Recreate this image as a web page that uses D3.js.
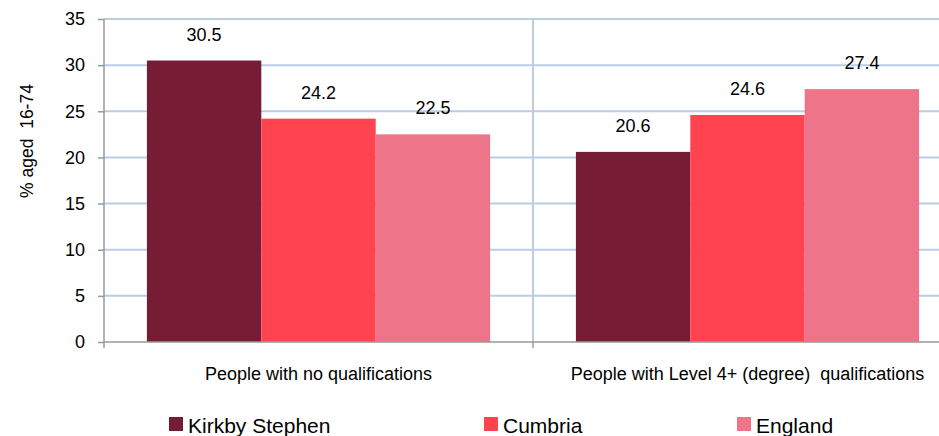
<!DOCTYPE html>
<html>
<head>
<meta charset="utf-8">
<script src="https://cdn.jsdelivr.net/npm/d3@7"></script>
<style>
  body { margin: 0; background: #fff; }
  text { font-family: "Liberation Sans", Arial, sans-serif; fill: #000; }
</style>
</head>
<body>
<div class="chart"></div>
<script>
var categories = ['People with no qualifications', 'People with Level 4+ (degree)  qualifications'];
var seriesNames = ['Kirkby Stephen', 'Cumbria', 'England'];
var kirkbyStephen = [30.5, 20.6];
var cumbria = [24.2, 24.6];
var england = [22.5, 27.4];
var yTicks = [0, 5, 10, 15, 20, 25, 30, 35];
var colors = ['#761d35', '#ff444f', '#ee7489'];

var svgWidth = 939;
var svgHeight = 436;
var margin = {top: 19, right: -23, bottom: 94, left: 104};
var width = svgWidth - margin.left - margin.right;
var height = 342 - margin.top;

var svg = d3.select('.chart')
  .append('svg')
  .attr('width', svgWidth)
  .attr('height', svgHeight);

var chart = svg.append('g')
  .attr('transform', 'translate(' + margin.left + ',' + margin.top + ')');

var x0 = d3.scaleBand().domain(categories).range([0, width]).paddingInner(0).paddingOuter(0);
var x1 = d3.scaleBand().domain(seriesNames).range([0, x0.bandwidth()]).paddingInner(0).paddingOuter(0.375);
var y = d3.scaleLinear().domain([0, 35]).range([height, 0]);

// horizontal gridlines
chart.selectAll('.hgrid')
  .data(yTicks.filter(function(d) { return d > 0; }))
  .enter()
  .append('line')
  .attr('x1', 0)
  .attr('x2', width)
  .attr('y1', function(d) { return y(d); })
  .attr('y2', function(d) { return y(d); })
  .attr('stroke', '#b9cde5')
  .attr('stroke-width', 2);

// vertical gridline between categories
chart.append('line')
  .attr('x1', x0(categories[1]))
  .attr('x2', x0(categories[1]))
  .attr('y1', 0)
  .attr('y2', height)
  .attr('stroke', '#b9cde5')
  .attr('stroke-width', 2);

var data = categories.map(function(c, i) {
  return {cat: c, values: [kirkbyStephen[i], cumbria[i], england[i]]};
});

var groups = chart.selectAll('.group')
  .data(data)
  .enter()
  .append('g')
  .attr('transform', function(d) { return 'translate(' + x0(d.cat) + ',0)'; });

groups.selectAll('rect')
  .data(function(d) { return d.values.map(function(v, j) { return {name: seriesNames[j], value: v, idx: j}; }); })
  .enter()
  .append('rect')
  .attr('x', function(d) { return x1(d.name); })
  .attr('y', function(d) { return y(d.value); })
  .attr('width', x1.bandwidth())
  .attr('height', function(d) { return height - y(d.value); })
  .attr('fill', function(d) { return colors[d.idx]; });

groups.selectAll('.val')
  .data(function(d) { return d.values.map(function(v, j) { return {name: seriesNames[j], value: v}; }); })
  .enter()
  .append('text')
  .attr('x', function(d) { return x1(d.name) + x1.bandwidth() / 2; })
  .attr('y', function(d) { return y(d.value) - 20; })
  .attr('text-anchor', 'middle')
  .attr('font-size', 18)
  .text(function(d) { return d.value.toFixed(1); });

// y axis
var leftAxis = d3.axisLeft(y).tickValues(yTicks).tickSize(6).tickPadding(13);
var yAxis = chart.append('g').call(leftAxis);
yAxis.select('.domain').attr('stroke', '#999').attr('stroke-width', 1.5).attr('d', 'M0,0V' + (height + 6));
yAxis.selectAll('.tick line').attr('stroke', '#999').attr('stroke-width', 1.5);
yAxis.selectAll('.tick text').attr('font-size', 18).attr('font-family', '"Liberation Sans", Arial, sans-serif').attr('fill', '#000');

// x axis
var xAxis = chart.append('g').attr('transform', 'translate(0,' + height + ')');
xAxis.append('line')
  .attr('x1', 0).attr('x2', width)
  .attr('stroke', '#999').attr('stroke-width', 1.5);
xAxis.selectAll('.xt')
  .data([x0(categories[1]), width])
  .enter()
  .append('line')
  .attr('x1', function(d) { return d; })
  .attr('x2', function(d) { return d; })
  .attr('y1', 0).attr('y2', 6)
  .attr('stroke', '#999').attr('stroke-width', 1.5);
xAxis.selectAll('.xl')
  .data(categories)
  .enter()
  .append('text')
  .attr('x', function(d) { return x0(d) + x0.bandwidth() / 2; })
  .attr('y', 38)
  .attr('text-anchor', 'middle')
  .attr('font-size', 18)
  .style('white-space', 'pre')
  .text(function(d) { return d; });

// y label
svg.append('text')
  .attr('transform', 'translate(33,141) rotate(-90)')
  .attr('text-anchor', 'middle')
  .attr('font-size', 17.5)
  .style('white-space', 'pre')
  .text('% aged  16-74');

// legend
var legendX = [169, 484, 737];
var legend = svg.selectAll('.legend')
  .data(seriesNames)
  .enter()
  .append('g')
  .attr('transform', function(d, i) { return 'translate(' + legendX[i] + ',417)'; });
legend.append('rect')
  .attr('width', 14).attr('height', 14)
  .attr('fill', function(d, i) { return colors[i]; });
legend.append('text')
  .attr('x', 19).attr('y', 16)
  .attr('font-size', 21)
  .text(function(d) { return d; });
</script>
</body>
</html>
